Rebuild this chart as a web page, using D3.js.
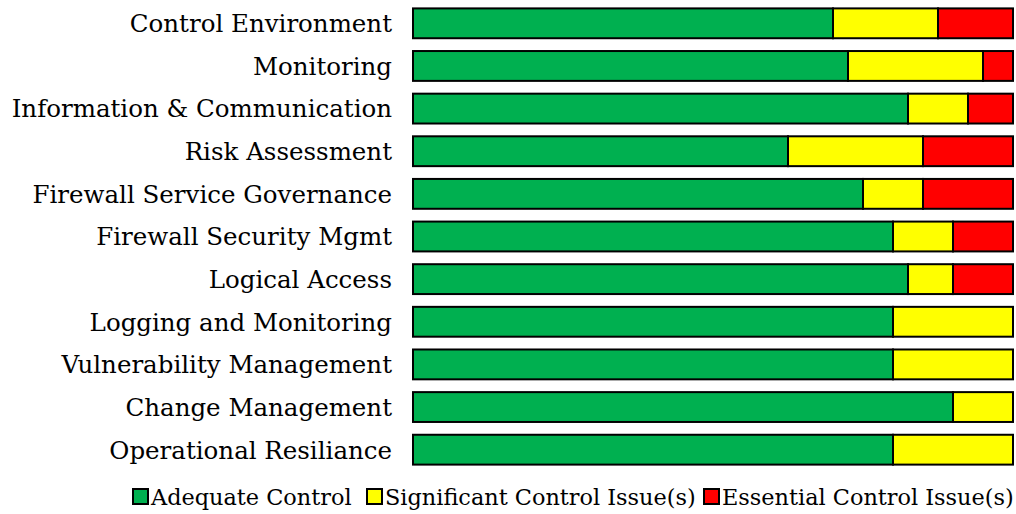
<!DOCTYPE html>
<html>
<head>
<meta charset="utf-8">
<script src="https://cdn.jsdelivr.net/npm/d3@7"></script>
<style>
  body { margin: 0; background: #fff; }
  text { font-family: "DejaVu Serif", serif; fill: #000; }
</style>
</head>
<body>
<div id="chart"></div>
<script>
// categorias, de arriba abajo
const categories = [
  "Control Environment", "Monitoring", "Information & Communication",
  "Risk Assessment", "Firewall Service Governance", "Firewall Security Mgmt",
  "Logical Access", "Logging and Monitoring", "Vulnerability Management",
  "Change Management", "Operational Resiliance"
];
// porcentajes por serie
const adequate    = [70, 72.5, 82.5, 62.5, 75, 80, 82.5, 80, 80, 90, 80];
const significant = [17.5, 22.5, 10, 22.5, 10, 10, 7.5, 20, 20, 10, 20];
const essential   = [12.5, 5, 7.5, 15, 15, 10, 10, 0, 0, 0, 0];
const seriesNames = ["Adequate Control", "Significant Control Issue(s)", "Essential Control Issue(s)"];
const colors = ["#00b050", "#ffff00", "#ff0000"];

const width = 1016, height = 514;
const margin = { left: 413, right: 3 };

const svg = d3.select("#chart").append("svg")
  .attr("width", width)
  .attr("height", height);

const rows = categories.map((c, i) => ({
  cat: c, adequate: adequate[i], significant: significant[i], essential: essential[i]
}));
const keys = ["adequate", "significant", "essential"];
const stacked = d3.stack().keys(keys)(rows);

const x = d3.scaleLinear().domain([0, 100]).range([margin.left, width - margin.right]);
const y = d3.scaleBand().domain(categories)
  .range([2, 471])
  .paddingInner(0.3).paddingOuter(0.15);

svg.append("g").selectAll("g")
  .data(stacked)
  .join("g")
  .attr("fill", (d, i) => colors[i])
  .selectAll("rect")
  .data(d => d.filter(p => p[1] - p[0] > 0))
  .join("rect")
  .attr("x", d => x(d[0]))
  .attr("y", d => y(d.data.cat))
  .attr("width", d => x(d[1]) - x(d[0]))
  .attr("height", y.bandwidth())
  .attr("stroke", "#000")
  .attr("stroke-width", 2);

// etiquetas del eje
svg.append("g").selectAll("text")
  .data(categories)
  .join("text")
  .attr("x", margin.left - 21)
  .attr("y", d => y(d) + y.bandwidth() / 2)
  .attr("dy", "0.36em")
  .attr("text-anchor", "end")
  .style("font-size", "24.5px")
  .text(d => d);

// leyenda
const legend = svg.append("g").attr("transform", `translate(0, ${height - 17})`);
const legX = [133, 367, 704];
seriesNames.forEach((name, i) => {
  legend.append("rect")
    .attr("x", legX[i]).attr("y", -8)
    .attr("width", 15).attr("height", 15)
    .attr("fill", colors[i])
    .attr("stroke", "#000").attr("stroke-width", 2);
  legend.append("text")
    .attr("x", legX[i] + 18).attr("y", 0)
    .attr("dy", "0.36em")
    .style("font-size", "22.4px")
    .text(name);
});
</script>
</body>
</html>
